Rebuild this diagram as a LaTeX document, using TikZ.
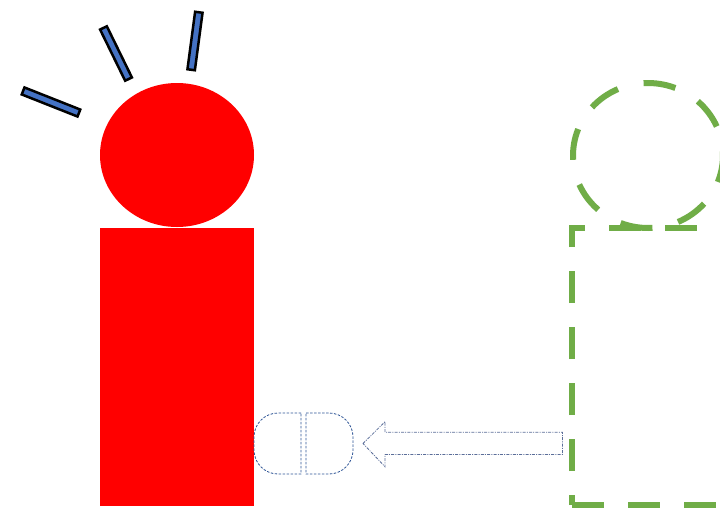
\documentclass[tikz,border=0pt]{standalone}
\usetikzlibrary{shapes.geometric}
\definecolor{barblue}{HTML}{4472C4}
\definecolor{grn}{HTML}{70AD47}
\definecolor{capblue}{HTML}{2F5597}
\definecolor{arrblue}{HTML}{5B6E99}
\tikzset{
  bar/.style={draw=black, fill=barblue, line width=2.5pt, minimum height=7.5pt, inner sep=0pt, rectangle},
  redpart/.style={fill=red, draw=none},
  greendash/.style={draw=grn, line width=6pt},
  capsule/.style={draw=capblue, line width=0.8pt, dash pattern=on 2.5pt off 1.5pt},
  blockarrow/.style={draw=arrblue, line width=0.8pt, dash pattern=on 3pt off 1.2pt on 1pt off 1.2pt}
}
\begin{document}
\begin{tikzpicture}[x=1pt,y=-1pt]
\useasboundingbox (0,0) rectangle (720,512);
\clip (0,0) rectangle (720,512);
\fill[white] (0,0) rectangle (720,512);
% red figure
\fill[redpart] (177,155) ellipse [x radius=77, y radius=72];
\fill[redpart] (100,228) rectangle (254,506);
% blue bars
\node[bar, minimum width=60pt, rotate=-21.6] (b1) at (51,102) {};
\node[bar, minimum width=57pt, rotate=-63.9] (b2) at (116,53.5) {};
\node[bar, minimum width=58pt, rotate=82.4] (b3) at (195,41) {};
% green dashed ellipse, drawn as 8 dashes
\coordinate (gc) at (648,155.5);
\foreach \a in {81,36,-9,-54,-99,-144,171,126}{
  \draw[greendash] (gc) ++({-\a-12.4}:75 and 72.5)
    arc[start angle={-\a-12.4}, end angle={-\a+12.4}, x radius=75, y radius=72.5];
}
% green dashed rectangle
\draw[greendash, dash pattern=on 32pt off 24pt, dash phase=22pt] (572,505) -- (572,228) -- (740,228);
\draw[greendash, dash pattern=on 32pt off 24pt] (572,505) -- (740,505);
% capsule
\draw[capsule] (301,413) -- (278,413) arc[start angle=270, end angle=180, radius=24]
  -- (254,450) arc[start angle=180, end angle=90, radius=24] -- (301,474) -- cycle;
\draw[capsule] (306,413) -- (329,413) arc[start angle=270, end angle=360, radius=24]
  -- (353,450) arc[start angle=0, end angle=90, radius=24] -- (306,474) -- cycle;
% block arrow
\draw[blockarrow] (363,443.5) -- (385,421.7) -- (385,432.3) -- (562.5,432.3) -- (562.5,454.5) -- (385,454.5) -- (385,466.7) -- cycle;
\end{tikzpicture}
\end{document}
